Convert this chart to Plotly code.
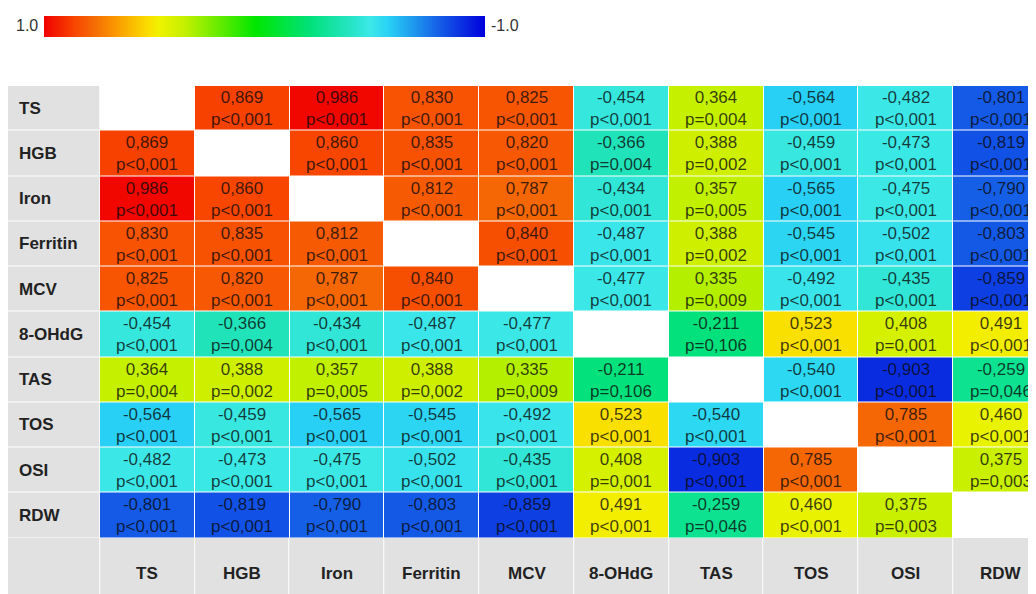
import plotly.graph_objects as go

labels = ["TS", "HGB", "Iron", "Ferritin", "MCV", "8-OHdG", "TAS", "TOS", "OSI", "RDW"]

# Upper-triangle correlation coefficients, row by row
r_upper = [
    [0.869, 0.986, 0.830, 0.825, -0.454, 0.364, -0.564, -0.482, -0.801],
    [0.860, 0.835, 0.820, -0.366, 0.388, -0.459, -0.473, -0.819],
    [0.812, 0.787, -0.434, 0.357, -0.565, -0.475, -0.790],
    [0.840, -0.487, 0.388, -0.545, -0.502, -0.803],
    [-0.477, 0.335, -0.492, -0.435, -0.859],
    [-0.211, 0.523, 0.408, 0.491],
    [-0.540, -0.903, -0.259],
    [0.785, 0.460],
    [0.375],
]

# Upper-triangle p-value labels, row by row
p_upper = [
    ["<0,001", "<0,001", "<0,001", "<0,001", "<0,001", "=0,004", "<0,001", "<0,001", "<0,001"],
    ["<0,001", "<0,001", "<0,001", "=0,004", "=0,002", "<0,001", "<0,001", "<0,001"],
    ["<0,001", "<0,001", "<0,001", "=0,005", "<0,001", "<0,001", "<0,001"],
    ["<0,001", "<0,001", "=0,002", "<0,001", "<0,001", "<0,001"],
    ["<0,001", "=0,009", "<0,001", "<0,001", "<0,001"],
    ["=0,106", "<0,001", "=0,001", "<0,001"],
    ["<0,001", "<0,001", "=0,046"],
    ["<0,001", "<0,001"],
    ["=0,003"],
]

n = len(labels)
R = [[None] * n for _ in range(n)]
P = [[None] * n for _ in range(n)]
for i, row in enumerate(r_upper):
    for k, v in enumerate(row):
        j = i + 1 + k
        R[i][j] = R[j][i] = v
        P[i][j] = P[j][i] = p_upper[i][k]

# colour coordinate: bar runs from 1.0 (left, red) to -1.0 (right, blue)
zc = [[(-v if v is not None else None) for v in row] for row in R]


def fmt(v, p):
    if v is None:
        return ""
    s = f"{v:.3f}".replace(".", ",")
    return f"{s}<br>p{p.replace('<', '&lt;')}"


txt = [[fmt(R[i][j], P[i][j]) for j in range(n)] for i in range(n)]

colorscale = [
    [0.00, "rgb(240,0,0)"],
    [0.07, "rgb(248,70,0)"],
    [0.11, "rgb(245,105,5)"],
    [0.16, "rgb(250,150,0)"],
    [0.24, "rgb(250,225,0)"],
    [0.26, "rgb(240,242,0)"],
    [0.32, "rgb(195,240,0)"],
    [0.48, "rgb(0,230,0)"],
    [0.60, "rgb(0,225,120)"],
    [0.70, "rgb(40,228,200)"],
    [0.74, "rgb(60,232,232)"],
    [0.78, "rgb(40,210,245)"],
    [0.90, "rgb(20,90,230)"],
    [1.00, "rgb(0,0,220)"],
]

HEADER = "#e1e1e1"
TXT = "rgba(10,10,10,0.78)"
FONT = "Liberation Sans, Arial, sans-serif"

W, H = 1036, 594
MT = 78
CW, RH = 94.8, 45.25

fig = go.Figure()

fig.add_trace(go.Heatmap(
    z=zc, x=list(range(n)), y=list(range(n)),
    zmin=-1, zmax=1, colorscale=colorscale,
    text=txt, texttemplate="%{text}",
    textfont=dict(size=17, color=TXT, family=FONT),
    xgap=1, ygap=1, hoverinfo="skip",
    colorbar=dict(
        orientation="h", xref="container", yref="container",
        x=256.5 / W, xanchor="center", y=1 - 8 / H, yanchor="top",
        len=441, lenmode="pixels", thickness=21, thicknessmode="pixels",
        outlinewidth=0, showticklabels=False, ticks="", xpad=0, ypad=0,
    ),
))

# header column (row labels)
fig.add_trace(go.Heatmap(
    z=[[1] for _ in range(n)], x0=-1, dx=1, y0=0, dy=1,
    colorscale=[[0, HEADER], [1, HEADER]], showscale=False,
    xgap=1, ygap=1, hoverinfo="skip",
))
# header row (column labels)
fig.add_trace(go.Heatmap(
    z=[[1] * (n + 1)], x0=-1, dx=1, y0=10.25, dy=1.5,
    colorscale=[[0, HEADER], [1, HEADER]], showscale=False,
    xgap=1, ygap=1, hoverinfo="skip",
))

for i, lab in enumerate(labels):
    fig.add_annotation(x=-1.38, y=i, text=f"<b>{lab}</b>", showarrow=False,
                       xanchor="left", font=dict(size=17, color="#222", family=FONT))
    fig.add_annotation(x=i, y=10.28, text=f"<b>{lab}</b>", showarrow=False,
                       xanchor="center", font=dict(size=17, color="#222", family=FONT))

PH = H - MT
fig.add_annotation(xref="paper", yref="paper", x=6 / W, y=1 + (MT - 17) / PH,
                   text="1.0", showarrow=False, xanchor="left", yanchor="middle",
                   font=dict(size=16, color="#333", family=FONT))
fig.add_annotation(xref="paper", yref="paper", x=481 / W, y=1 + (MT - 17) / PH,
                   text="-1.0", showarrow=False, xanchor="left", yanchor="middle",
                   font=dict(size=16, color="#333", family=FONT))

x0 = -1.5 + (8 - 5.2) / CW
y0 = -0.5 + 0.5 / RH
fig.update_xaxes(range=[x0, x0 + W / CW], visible=False, fixedrange=True)
fig.update_yaxes(range=[y0 + PH / RH, y0], visible=False, fixedrange=True)

fig.update_layout(
    width=W, height=H,
    margin=dict(l=0, r=0, t=MT, b=0, autoexpand=False),
    paper_bgcolor="white", plot_bgcolor="white",
    showlegend=False,
)

fig.write_html("out.html")
